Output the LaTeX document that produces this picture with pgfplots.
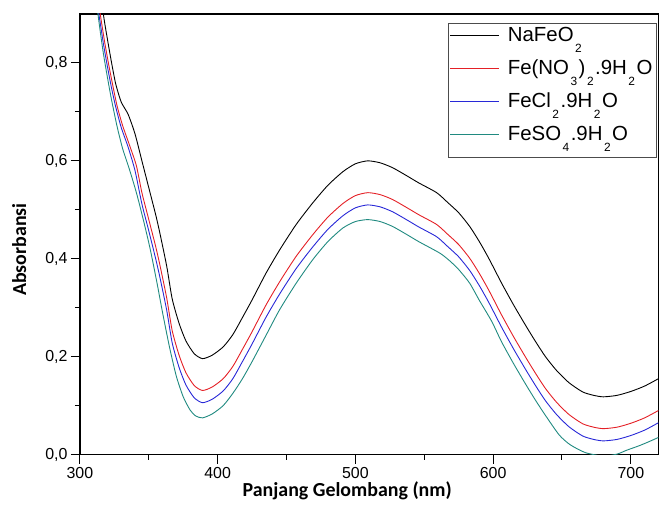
\documentclass[border=0pt]{standalone}
\usepackage{fontspec}
\setmainfont{Liberation Sans}
\newfontfamily\labfont{Carlito}
\usepackage{pgfplots}
\pgfplotsset{compat=1.18}

\definecolor{cred}{RGB}{228,32,38}
\definecolor{cblue}{RGB}{40,40,215}
\definecolor{cteal}{RGB}{32,138,128}
\newcommand\sub[1]{\kern1.5bp\raisebox{-11bp}{\fontsize{12}{12}\selectfont #1}\kern1.5bp}

\pgfplotstableread{
x y
310 1.050
317 0.900
320 0.848
323 0.800
326 0.757
330 0.720
335 0.695
340 0.655
345 0.600
350 0.545
355 0.490
358 0.453
363 0.385
367 0.318
372 0.268
377 0.232
383 0.206
389 0.196
396 0.203
404 0.220
411 0.245
418 0.280
425 0.316
435 0.370
445 0.418
457 0.470
469 0.514
480 0.550
491 0.578
500 0.594
509 0.600
518 0.596
527 0.586
537 0.570
546 0.555
559 0.535
567 0.515
575 0.494
583 0.466
590 0.435
597 0.400
606 0.351
615 0.305
624 0.262
631 0.230
638 0.200
646 0.172
655 0.147
665 0.128
673 0.121
680 0.118
690 0.121
700 0.129
710 0.140
720 0.155
}\naf

\pgfplotstableread{
x y
310 0.985
315 0.895
318 0.842
321 0.795
324 0.752
327 0.712
331 0.672
336 0.632
341 0.590
345 0.535
350 0.480
355 0.425
358 0.388
363 0.320
367 0.253
372 0.203
377 0.167
383 0.141
389 0.131
396 0.138
404 0.155
411 0.180
418 0.215
425 0.251
435 0.305
445 0.353
457 0.405
469 0.449
480 0.485
491 0.513
500 0.529
509 0.535
518 0.531
527 0.521
537 0.505
546 0.490
559 0.470
567 0.450
575 0.429
583 0.401
590 0.370
597 0.335
606 0.286
615 0.240
624 0.197
631 0.165
638 0.135
646 0.107
655 0.082
665 0.063
673 0.056
680 0.053
690 0.056
700 0.064
710 0.075
720 0.090
}\nitrat

\pgfplotstableread{
x y
310 0.960
314 0.895
317 0.840
320 0.792
323 0.748
326 0.710
330 0.668
335 0.628
340 0.580
345 0.512
350 0.457
355 0.400
358 0.363
363 0.295
367 0.228
372 0.178
377 0.142
383 0.116
389 0.106
396 0.113
404 0.130
411 0.155
418 0.190
425 0.226
435 0.280
445 0.328
457 0.380
469 0.424
480 0.460
491 0.488
500 0.504
509 0.510
518 0.506
527 0.496
537 0.480
546 0.465
559 0.445
567 0.425
575 0.404
583 0.376
590 0.345
597 0.310
606 0.261
615 0.215
624 0.172
631 0.140
638 0.110
646 0.082
655 0.057
665 0.038
673 0.031
680 0.028
690 0.031
700 0.039
710 0.050
720 0.065
}\klorida

\pgfplotstableread{
x y
310 0.970
314 0.880
317 0.820
320 0.770
323 0.724
327 0.670
331 0.625
336 0.582
341 0.535
346 0.480
351 0.420
356 0.350
360 0.290
365 0.220
370 0.160
375 0.118
380 0.091
384 0.079
389 0.075
396 0.083
404 0.100
411 0.125
418 0.155
425 0.190
435 0.243
445 0.296
457 0.350
469 0.398
480 0.435
491 0.463
500 0.476
509 0.480
518 0.476
527 0.466
537 0.450
546 0.435
561 0.412
568 0.397
575 0.378
583 0.350
590 0.315
599 0.272
606 0.231
615 0.185
624 0.142
631 0.110
638 0.080
648 0.040
656 0.020
667 0.004
680 -0.003
690 0.001
697 0.009
705 0.017
712 0.025
720 0.035
}\sulfat

\begin{document}
\begin{tikzpicture}
\begin{axis}[
  scale only axis,
  width=579bp, height=441bp,
  xmin=300, xmax=720, ymin=0, ymax=0.9,
  xtick={300,400,...,700},
  ytick={0,0.2,...,0.8},
  minor x tick num=1, minor y tick num=1,
  tick pos=left, tick align=outside,
  major tick length=9bp, minor tick length=5bp,
  axis line style={line width=1.2bp},
  every tick/.style={black, line width=1bp},
  /pgf/number format/assume math mode=true,
  tick label style={font=\fontsize{16}{19}\selectfont},
  yticklabel style={/pgf/number format/.cd, fixed, fixed zerofill, precision=1, use comma},
  xticklabel style={/pgf/number format/1000 sep={}},
  xlabel={\labfont\bfseries Panjang Gelombang (nm)},
  ylabel={\labfont\bfseries Absorbansi},
  label style={font=\fontsize{20}{24}\selectfont, inner sep=0pt},
  xlabel style={at={(axis description cs:0.462,0)}, anchor=north, yshift=-27bp},
  ylabel style={at={(axis description cs:-0.1174,0.465)}, anchor=north},
  legend cell align=left,
  legend style={at={(0.636,0.98)}, anchor=north west, draw=black!70,
    font=\fontsize{20.5}{22}\selectfont, inner sep=2bp, row sep=2bp,
    nodes={inner sep=2bp, text height=15bp, text depth=12bp},
    /tikz/every odd column/.append style={column sep=6bp}},
  legend image code/.code={\draw[#1, line width=0.9bp] (0bp,5bp) -- (49bp,5bp);},
  every axis plot/.append style={line width=0.9bp},
]
\addplot[color=black, smooth, tension=0.4] table[x=x,y=y] {\naf};
\addlegendentry{NaFeO\sub{2}}
\addplot[color=cred, smooth, tension=0.4] table[x=x,y=y] {\nitrat};
\addlegendentry{Fe(NO\sub{3})\sub{2}.9H\sub{2}O}
\addplot[color=cblue, smooth, tension=0.4] table[x=x,y=y] {\klorida};
\addlegendentry{FeCl\sub{2}.9H\sub{2}O}
\addplot[color=cteal, smooth, tension=0.4] table[x=x,y=y] {\sulfat};
\addlegendentry{FeSO\sub{4}.9H\sub{2}O}
\end{axis}
\path[use as bounding box] ([xshift=-80bp,yshift=-52bp]current axis.south west) rectangle ([yshift=14bp]current axis.north east);
\end{tikzpicture}
\end{document}
